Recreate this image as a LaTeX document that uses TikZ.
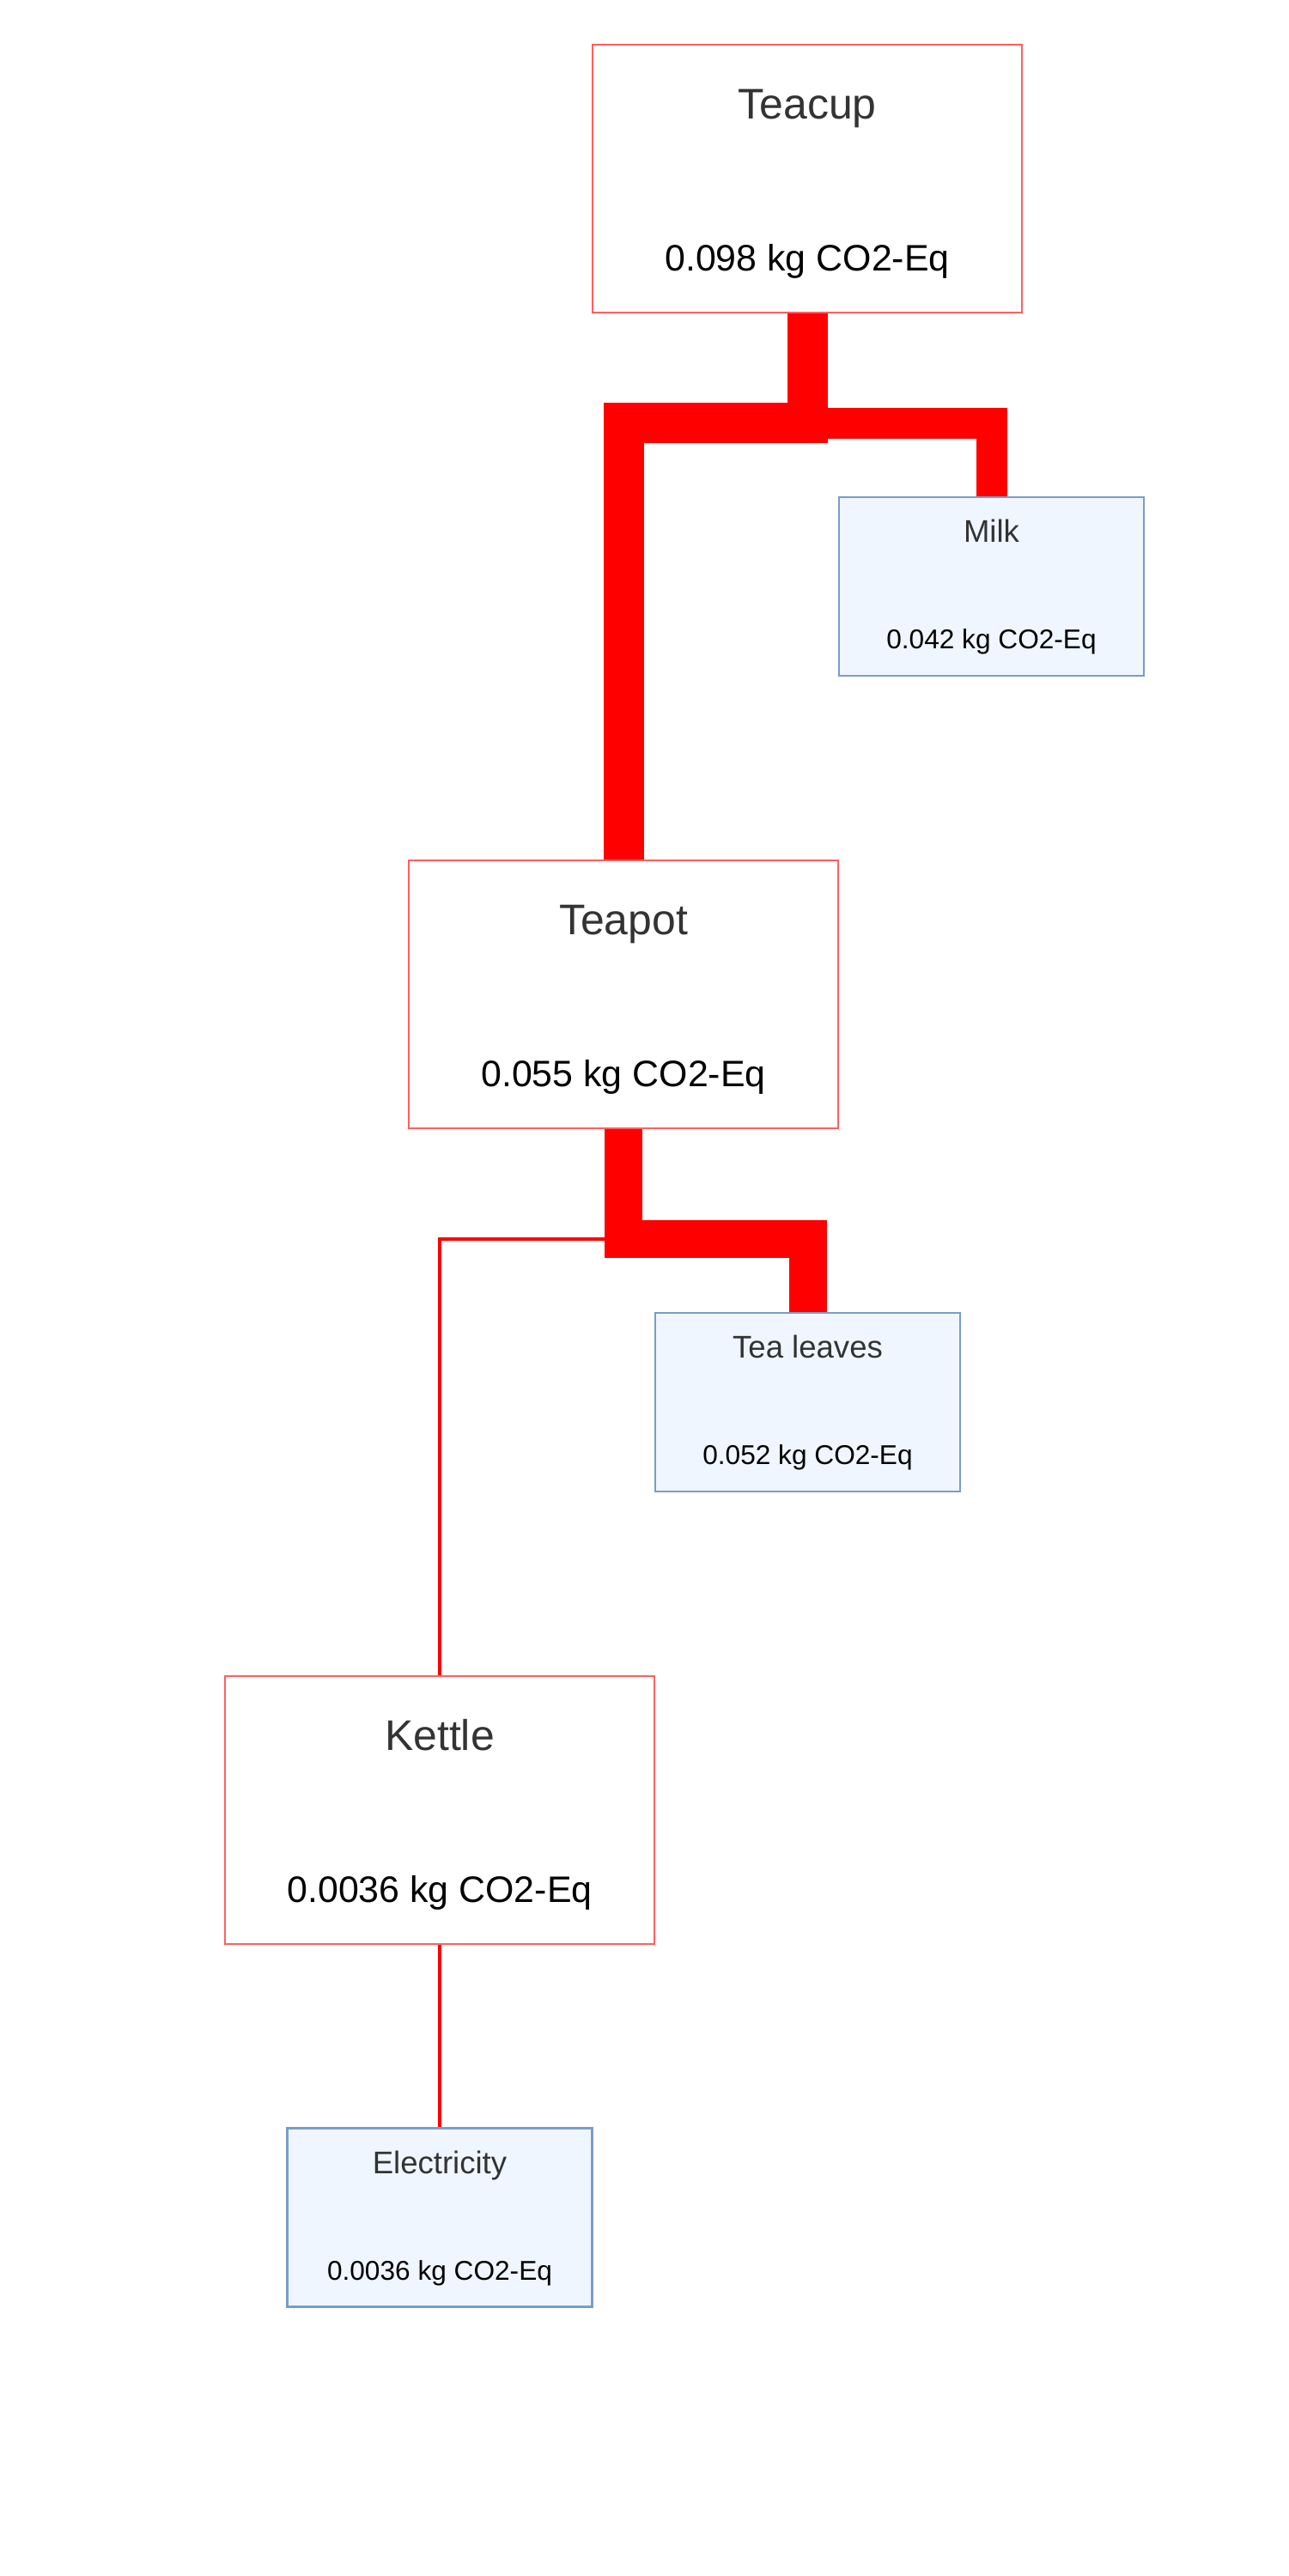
\documentclass[tikz,border=0pt]{standalone}
\usepackage{fontspec}
\setmainfont{Liberation Sans}
\definecolor{flowred}{RGB}{255,0,0}
\definecolor{boxred}{RGB}{255,96,96}
\definecolor{boxblue}{RGB}{120,158,200}
\definecolor{boxfill}{RGB}{239,246,255}
\definecolor{titlegray}{RGB}{51,51,51}
\tikzset{
  bigbox/.style={draw=boxred, line width=0.6pt, minimum width=5cm, minimum height=3.12cm, inner sep=0pt},
  smallbox/.style={draw=boxblue, fill=boxfill, line width=0.6pt, minimum width=3.55cm, minimum height=2.08cm, inner sep=0pt},
  bigtitle/.style={anchor=base, inner sep=0pt, text=titlegray, font=\fontsize{14.2}{17}\selectfont},
  bigvalue/.style={anchor=base, inner sep=0pt, text=black, font=\fontsize{12.2}{15}\selectfont},
  smalltitle/.style={anchor=base, inner sep=0pt, text=titlegray, font=\fontsize{10.4}{12}\selectfont},
  smallvalue/.style={anchor=base, inner sep=0pt, text=black, font=\fontsize{9}{11}\selectfont},
  flow/.style={draw=flowred}
}
\begin{document}
\begin{tikzpicture}[x=1cm, y=-1cm]
\useasboundingbox (0,0) rectangle (15,30);

% les boites
\node[bigbox] (teacup) at (9.40,2.08) {};
\node[smallbox] (milk) at (11.545,6.83) {};
\node[bigbox] (teapot) at (7.26,11.58) {};
\node[smallbox] (leaves) at (9.405,16.33) {};
\node[bigbox] (kettle) at (5.12,21.08) {};
\node[smallbox] (elec) at (5.12,25.825) {};

% les textes
\node[bigtitle] (teacup-t) at ([yshift=-8.8mm]teacup.north) {Teacup};
\node[bigvalue] (teacup-v) at ([yshift=-26.5mm]teacup.north) {0.098 kg CO2-Eq};
\node[smalltitle] (milk-t) at ([yshift=-5.4mm]milk.north) {Milk};
\node[smallvalue] (milk-v) at ([yshift=-17.8mm]milk.north) {0.042 kg CO2-Eq};
\node[bigtitle] (teapot-t) at ([yshift=-8.8mm]teapot.north) {Teapot};
\node[bigvalue] (teapot-v) at ([yshift=-26.5mm]teapot.north) {0.055 kg CO2-Eq};
\node[smalltitle] (leaves-t) at ([yshift=-5.4mm]leaves.north) {Tea leaves};
\node[smallvalue] (leaves-v) at ([yshift=-17.8mm]leaves.north) {0.052 kg CO2-Eq};
\node[bigtitle] (kettle-t) at ([yshift=-8.8mm]kettle.north) {Kettle};
\node[bigvalue] (kettle-v) at ([yshift=-26.5mm]kettle.north) {0.0036 kg CO2-Eq};
\node[smalltitle] (elec-t) at ([yshift=-5.4mm]elec.north) {Electricity};
\node[smallvalue] (elec-v) at ([yshift=-17.8mm]elec.north) {0.0036 kg CO2-Eq};

% les flux
\coordinate (j1) at (9.40,4.93);
\coordinate (j2) at (7.26,14.43);
\draw[flow, line width=4.7mm] (teacup.south) -- (j1) -| (teapot.north);
\draw[flow, line width=3.6mm] (j1) -| (milk.north);
\draw[flow, line width=4.4mm] (teapot.south) -- (j2) -| (leaves.north);
\draw[flow, line width=0.4mm] (j2) -| (kettle.north);
\draw[flow, line width=0.4mm] (kettle.south) -- (elec.north);
\end{tikzpicture}
\end{document}
